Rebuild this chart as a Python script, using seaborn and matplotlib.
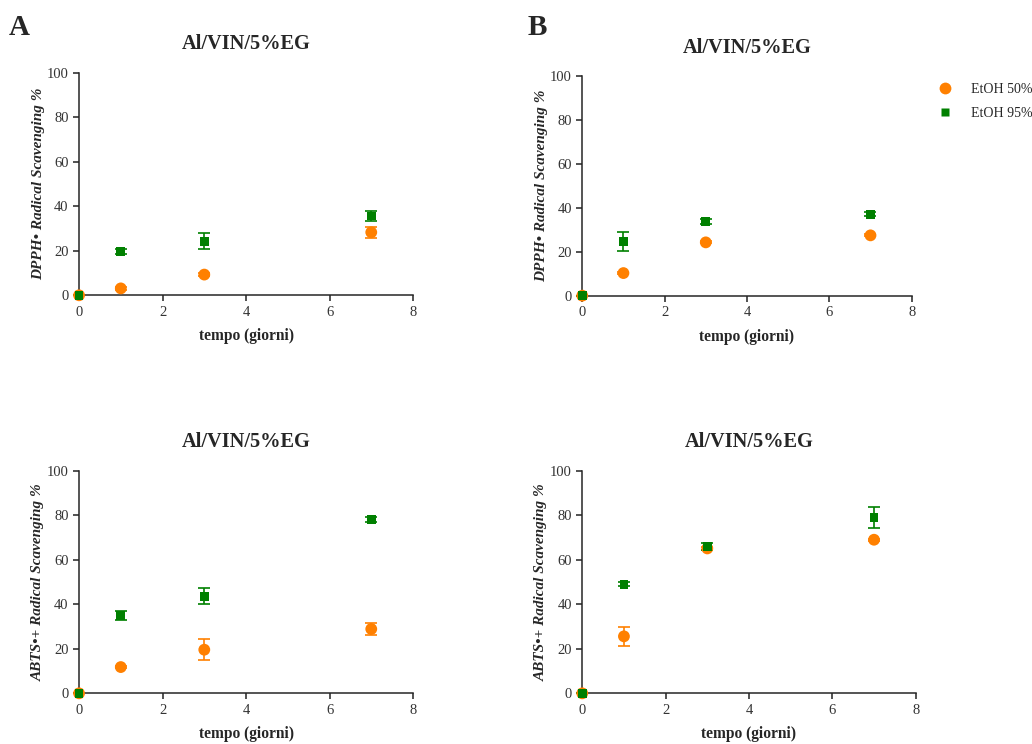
import numpy as np
import pandas as pd
import matplotlib
matplotlib.use("Agg")
import matplotlib.pyplot as plt
import seaborn as sns
from matplotlib.lines import Line2D

# ---------------- data ----------------
days = [0, 1, 3, 7]
series_names = ["EtOH 50%", "EtOH 95%"]

# Panel A, DPPH
dpph_A_50 = [0, 3.1, 9.3, 28.3]
dpph_A_50_err = [0, 0.5, 0.8, 2.6]
dpph_A_95 = [0, 19.6, 24.3, 35.6]
dpph_A_95_err = [0, 1.0, 3.7, 2.3]

# Panel B, DPPH
dpph_B_50 = [0, 10.3, 24.3, 27.5]
dpph_B_50_err = [0, 0.5, 0.5, 0.5]
dpph_B_95 = [0, 24.6, 33.9, 37.1]
dpph_B_95_err = [0, 4.3, 1.0, 1.0]

# Panel A, ABTS
abts_A_50 = [0, 11.8, 19.6, 28.9]
abts_A_50_err = [0, 0.5, 4.6, 2.5]
abts_A_95 = [0, 35.0, 43.6, 78.0]
abts_A_95_err = [0, 2.0, 3.5, 1.0]

# Panel B, ABTS
abts_B_50 = [0, 25.6, 65.1, 69.0]
abts_B_50_err = [0, 4.2, 0.5, 0.5]
abts_B_95 = [0, 49.0, 66.0, 79.0]
abts_B_95_err = [0, 0.8, 1.5, 4.6]

title = "Al/VIN/5%EG"
xlabel = "tempo (giorni)"
ylabel_dpph = "DPPH• Radical Scavenging %"
ylabel_abts = "ABTS•+ Radical Scavenging %"
xticks = [0, 2, 4, 6, 8]
yticks = [0, 20, 40, 60, 80, 100]

colors = {"EtOH 50%": "#FF8000", "EtOH 95%": "#008000"}
markers = {"EtOH 50%": "o", "EtOH 95%": "s"}
sizes = {"EtOH 50%": 8.5, "EtOH 95%": 6.2}

# ---------------- style ----------------
sns.set_theme(style="ticks")
plt.rcParams["font.family"] = ["Liberation Serif", "DejaVu Serif"]
plt.rcParams["axes.linewidth"] = 1.1

fig = plt.figure(figsize=(10.32, 7.44), dpi=100)

panels = [
    ([0.0766, 0.6031, 0.3236, 0.2992], dpph_A_50, dpph_A_50_err, dpph_A_95, dpph_A_95_err, ylabel_dpph),
    ([0.5642, 0.6026, 0.3192, 0.2948], dpph_B_50, dpph_B_50_err, dpph_B_95, dpph_B_95_err, ylabel_dpph),
    ([0.0766, 0.0681, 0.3236, 0.2992], abts_A_50, abts_A_50_err, abts_A_95, abts_A_95_err, ylabel_abts),
    ([0.5642, 0.0681, 0.3231, 0.2992], abts_B_50, abts_B_50_err, abts_B_95, abts_B_95_err, ylabel_abts),
]

for rect, y50, e50, y95, e95, ylab in panels:
    ax = fig.add_axes(rect)
    df = pd.DataFrame({
        "day": days * 2,
        "value": list(y50) + list(y95),
        "err": list(e50) + list(e95),
        "series": [series_names[0]] * len(days) + [series_names[1]] * len(days),
    })
    for name in series_names:
        sub = df[df["series"] == name]
        ax.errorbar(sub["day"], sub["value"], yerr=sub["err"], fmt="none",
                    ecolor=colors[name], elinewidth=1.2, capsize=4, capthick=1.2,
                    clip_on=False, zorder=3)
        sns.scatterplot(data=sub, x="day", y="value", ax=ax, color=colors[name],
                        marker=markers[name], s=sizes[name] ** 2, edgecolor="none",
                        legend=False, clip_on=False, zorder=4)
    ax.set_xlim(0, 8)
    ax.set_ylim(0, 100)
    ax.set_xticks(xticks)
    ax.set_yticks(yticks)
    ax.tick_params(axis="both", labelsize=10.5, direction="out", length=4.5, width=1.1,
                   colors="#222222", pad=3)
    for lab in ax.get_xticklabels() + ax.get_yticklabels():
        lab.set_color("#333333")
    sns.despine(ax=ax)
    ax.set_title(title, fontsize=14.7, fontweight="bold", pad=17)
    ax.set_xlabel(xlabel, fontsize=11.2, fontweight="bold", labelpad=7)
    ax.set_ylabel(ylab, fontsize=11, fontweight="bold", style="italic", labelpad=1.5)

fig.text(0.008, 0.963, "A", fontsize=21, fontweight="bold", ha="left", va="center")
fig.text(0.511, 0.963, "B", fontsize=21, fontweight="bold", ha="left", va="center")

handles = [Line2D([0], [0], marker=markers[n], color="none", markerfacecolor=colors[n],
                  markeredgecolor="none", markersize=sizes[n], label=n)
           for n in series_names]
fig.legend(handles=handles, loc="upper left", bbox_to_anchor=(0.8905, 0.905),
           frameon=False, fontsize=10, handletextpad=0.87, labelspacing=0.8)

fig.savefig("out.png", dpi=100)
